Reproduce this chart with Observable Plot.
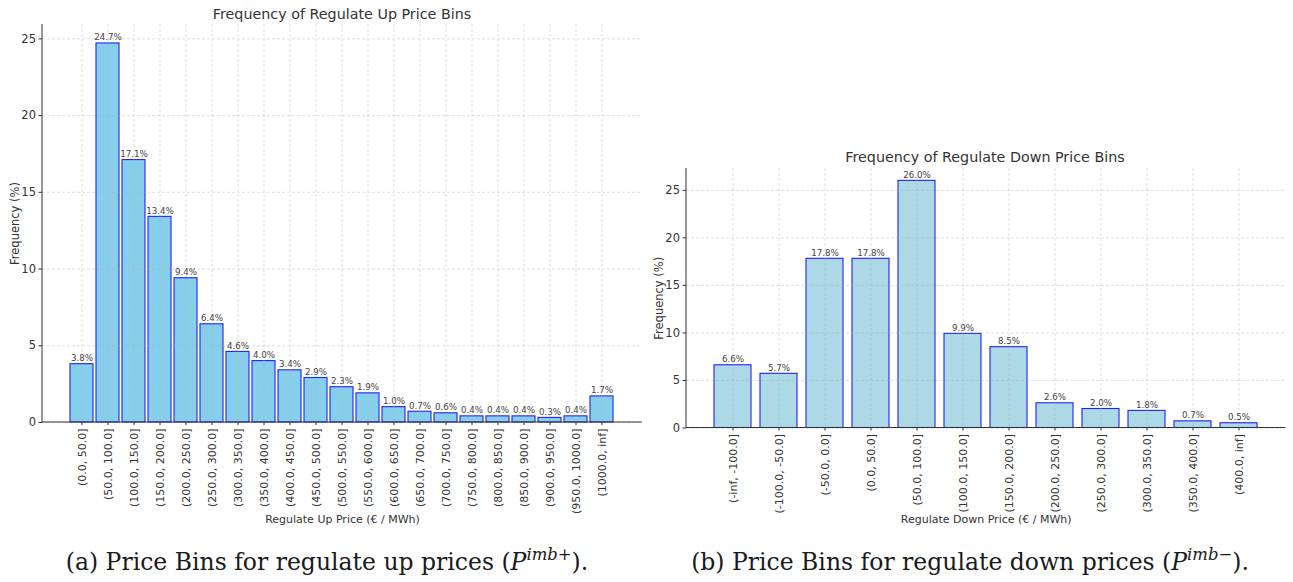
<!DOCTYPE html>
<html>
<head>
<meta charset="utf-8">
<script src="https://cdn.jsdelivr.net/npm/d3@7"></script>
<script src="https://cdn.jsdelivr.net/npm/@observablehq/plot@0.6"></script>
<style>
  body { margin: 0; background: #fff; }
  #root { position: relative; width: 1293px; height: 582px; overflow: hidden; font-family: "DejaVu Sans", sans-serif; }
  .panel { position: absolute; top: 0; }
  .title { position: absolute; font-size: 14.3px; color: #333; white-space: nowrap; transform: translateX(-50%); }
  .cap { position: absolute; font-family: "DejaVu Serif", "Liberation Serif", serif; font-size: 23.5px; line-height: 28px; color: #1a1a1a; white-space: nowrap; transform: translateX(-50%); }
  .cap i { font-style: italic; }
  .cap sup { font-size: 0.7em; vertical-align: 0.6em; line-height: 0; }
</style>
</head>
<body>
<div id="root">
  <div class="panel" id="left" style="left:0px"></div>
  <div class="panel" id="right" style="left:646px"></div>
  <div class="title" style="left:342px; top:6px">Frequency of Regulate Up Price Bins</div>
  <div class="title" style="left:985px; top:149px">Frequency of Regulate Down Price Bins</div>
  <div class="cap" style="left:327px; top:548px">(a) Price Bins for regulate up prices (<i>P</i><sup><i>imb</i>+</sup>).</div>
  <div class="cap" style="left:970px; top:548px">(b) Price Bins for regulate down prices (<i>P</i><sup><i>imb</i>−</sup>).</div>
</div>
<script>
const upBins = ["(0.0, 50.0]", "(50.0, 100.0]", "(100.0, 150.0]", "(150.0, 200.0]", "(200.0, 250.0]",
  "(250.0, 300.0]", "(300.0, 350.0]", "(350.0, 400.0]", "(400.0, 450.0]", "(450.0, 500.0]",
  "(500.0, 550.0]", "(550.0, 600.0]", "(600.0, 650.0]", "(650.0, 700.0]", "(700.0, 750.0]",
  "(750.0, 800.0]", "(800.0, 850.0]", "(850.0, 900.0]", "(900.0, 950.0]", "(950.0, 1000.0]", "(1000.0, inf]"];
const upFreq = [3.8, 24.7, 17.1, 13.4, 9.4, 6.4, 4.6, 4.0, 3.4, 2.9, 2.3, 1.9, 1.0, 0.7, 0.6, 0.4, 0.4, 0.4, 0.3, 0.4, 1.7];

const downBins = ["(-inf, -100.0]", "(-100.0, -50.0]", "(-50.0, 0.0]", "(0.0, 50.0]", "(50.0, 100.0]",
  "(100.0, 150.0]", "(150.0, 200.0]", "(200.0, 250.0]", "(250.0, 300.0]", "(300.0, 350.0]",
  "(350.0, 400.0]", "(400.0, inf]"];
const downFreq = [6.6, 5.7, 17.8, 17.8, 26.0, 9.9, 8.5, 2.6, 2.0, 1.8, 0.7, 0.5];

const yTicks = [0, 5, 10, 15, 20, 25];

function spines() {
  return (index, scales, values, dims) => {
    const svg = d3.create("svg:g");
    const x0 = dims.marginLeft, x1 = dims.width - dims.marginRight;
    const y0 = dims.marginTop, y1 = dims.height - dims.marginBottom;
    svg.append("line").attr("x1", x0).attr("x2", x0).attr("y1", y0).attr("y2", y1).attr("stroke", "#333").attr("stroke-width", 1);
    svg.append("line").attr("x1", x0).attr("x2", x1).attr("y1", y1).attr("y2", y1).attr("stroke", "#333").attr("stroke-width", 1);
    return svg.node();
  };
}

function chart({bins, freq, fill, width, height, margins, paddingInner, paddingOuter, xLabel, xLabelOffset}) {
  const data = bins.map((b, i) => ({bin: b, value: freq[i]}));
  const ymax = d3.max(freq) * 1.05;
  return Plot.plot({
    width, height,
    marginLeft: margins[3], marginRight: margins[1], marginTop: margins[0], marginBottom: margins[2],
    style: {fontFamily: "DejaVu Sans, sans-serif", color: "#333", background: "white"},
    x: {domain: bins, type: "band", paddingInner, paddingOuter, align: 0.5},
    y: {domain: [0, ymax]},
    marks: [
      Plot.barY(data, {x: "bin", y: "value", fill, stroke: "#2020ff", strokeWidth: 1.1}),
      Plot.gridX({stroke: "#b0b0b0", strokeOpacity: 0.5, strokeDasharray: "3,2", strokeWidth: 0.8}),
      Plot.gridY(yTicks, {stroke: "#b0b0b0", strokeOpacity: 0.5, strokeDasharray: "3,2", strokeWidth: 0.8}),
      Plot.text(data, {x: "bin", y: "value", text: d => d.value.toFixed(1) + "%", lineAnchor: "bottom", dy: -3, fontSize: 8.7, fill: "#444"}),
      Plot.axisX({tickRotate: -90, fontSize: 11, tickSize: 3, tickPadding: 3, label: xLabel, labelAnchor: "center", labelArrow: "none", labelOffset: xLabelOffset, fill: "#333"}),
      Plot.axisY(yTicks, {fontSize: 11.5, tickSize: 3.5, tickPadding: 3, label: "Frequency (%)", labelAnchor: "center", labelArrow: "none", labelOffset: 32, fill: "#333"}),
      spines()
    ]
  });
}

document.getElementById("left").append(chart({
  bins: upBins, freq: upFreq, fill: "#87ceeb", width: 646, height: 530,
  margins: [24, 4, 108, 42], paddingInner: 0.1, paddingOuter: 1.045,
  xLabel: "Regulate Up Price (€ / MWh)", xLabelOffset: 100
}));
document.getElementById("right").append(chart({
  bins: downBins, freq: downFreq, fill: "#add8e6", width: 647, height: 530,
  margins: [168, 7.6, 102.5, 40], paddingInner: 0.2, paddingOuter: 0.59,
  xLabel: "Regulate Down Price (€ / MWh)", xLabelOffset: 94.5
}));
</script>
</body>
</html>
